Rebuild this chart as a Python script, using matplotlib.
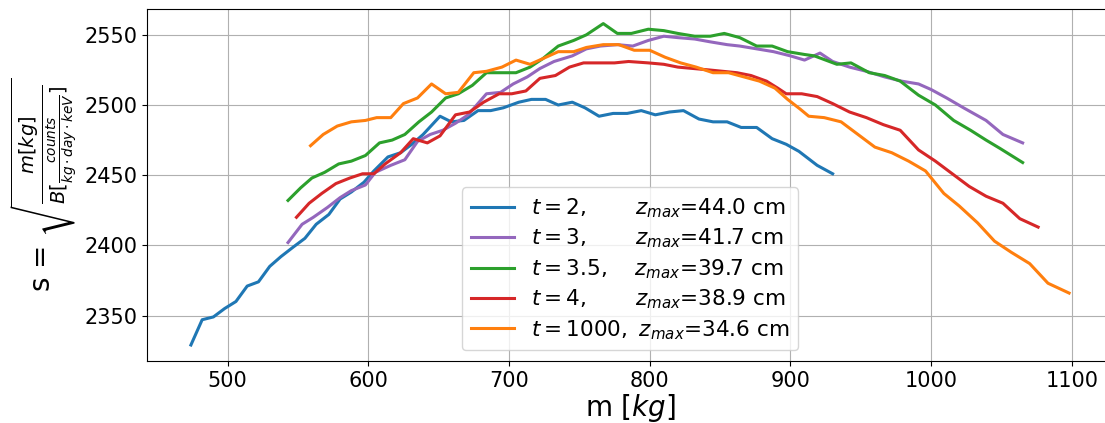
import matplotlib
matplotlib.use("Agg")
import matplotlib.pyplot as plt

# t = 2
m_t2 = [474, 482, 490, 498, 506, 514, 522, 530, 538, 547, 555, 563, 572, 580, 588, 597, 604, 614, 623, 631,
        639, 651, 659, 668, 678, 687, 696, 707, 716, 726, 735, 745, 754, 764, 774, 784, 794, 804, 814, 824,
        835, 845, 855, 865, 876, 887, 897, 906, 919, 930]
s_t2 = [2329, 2347, 2349, 2355, 2360, 2371, 2374, 2385, 2392, 2399, 2405, 2415, 2422, 2433, 2438, 2445, 2453, 2463, 2466, 2472,
        2479, 2492, 2488, 2489, 2496, 2496, 2498, 2502, 2504, 2504, 2500, 2502, 2498, 2492, 2494, 2494, 2496, 2493, 2495, 2496,
        2490, 2488, 2488, 2484, 2484, 2476, 2472, 2467, 2457, 2451]

# t = 3
m_t3 = [543, 553, 561, 571, 580, 588, 598, 605, 616, 626, 635, 644, 653, 662, 671, 684, 694, 703, 713, 722,
        732, 745, 755, 765, 777, 788, 799, 810, 820, 832, 843, 855, 864, 876, 888, 900, 910, 921, 930, 942,
        954, 967, 979, 991, 1000, 1011, 1023, 1039, 1051, 1065]
s_t3 = [2402, 2415, 2420, 2427, 2434, 2439, 2443, 2452, 2457, 2461, 2474, 2479, 2482, 2487, 2493, 2508, 2509, 2515, 2520, 2526,
        2531, 2535, 2540, 2542, 2543, 2542, 2546, 2549, 2548, 2547, 2545, 2543, 2542, 2540, 2538, 2535, 2532, 2537, 2531, 2527,
        2524, 2520, 2517, 2515, 2511, 2505, 2498, 2489, 2479, 2473]

# t = 3.5
m_t35 = [543, 552, 560, 569, 579, 588, 598, 608, 617, 626, 636, 645, 655, 664, 674, 684, 695, 705, 715, 724,
         735, 746, 755, 767, 777, 787, 799, 810, 820, 832, 843, 853, 864, 876, 887, 898, 910, 917, 933, 943,
         956, 967, 978, 991, 1003, 1016, 1028, 1039, 1049, 1065]
s_t35 = [2432, 2441, 2448, 2452, 2458, 2460, 2464, 2473, 2475, 2479, 2488, 2495, 2505, 2508, 2514, 2523, 2523, 2523, 2527, 2533,
         2542, 2546, 2550, 2558, 2551, 2551, 2554, 2553, 2551, 2549, 2549, 2551, 2548, 2542, 2542, 2538, 2536, 2535, 2529, 2530,
         2523, 2521, 2517, 2507, 2500, 2489, 2482, 2475, 2469, 2459]

# t = 4
m_t4 = [549, 558, 567, 577, 587, 596, 604, 612, 623, 632, 642, 651, 662, 672, 682, 693, 702, 712, 722, 733,
        743, 753, 765, 775, 785, 799, 810, 820, 831, 842, 852, 862, 872, 883, 891, 897, 908, 919, 930, 942,
        954, 966, 978, 991, 1003, 1015, 1027, 1039, 1051, 1063, 1076]
s_t4 = [2420, 2430, 2437, 2444, 2448, 2451, 2451, 2458, 2466, 2476, 2473, 2478, 2493, 2495, 2502, 2508, 2508, 2510, 2519, 2521,
        2527, 2530, 2530, 2530, 2531, 2530, 2529, 2527, 2526, 2525, 2524, 2523, 2521, 2517, 2512, 2508, 2508, 2506, 2501, 2495,
        2491, 2486, 2482, 2468, 2460, 2451, 2442, 2435, 2430, 2419, 2413]

# t = 1000
m_t1000 = [559, 568, 578, 588, 598, 606, 616, 625, 635, 645, 655, 664, 675, 684, 695, 705, 715, 724, 735, 746,
           755, 767, 778, 789, 800, 811, 822, 833, 845, 856, 867, 878, 889, 898, 907, 913, 924, 936, 948, 960,
           972, 984, 996, 1009, 1020, 1033, 1045, 1057, 1070, 1083, 1098]
s_t1000 = [2471, 2479, 2485, 2488, 2489, 2491, 2491, 2501, 2505, 2515, 2508, 2509, 2523, 2524, 2527, 2532, 2529, 2533, 2538, 2538,
           2541, 2543, 2543, 2539, 2539, 2534, 2530, 2527, 2523, 2523, 2520, 2517, 2512, 2504, 2497, 2492, 2491, 2488, 2479, 2470,
           2466, 2460, 2453, 2437, 2428, 2416, 2403, 2395, 2387, 2373, 2366]

labels = [r'$t=2$,$\qquad$ $z_{max}$=44.0 cm',
          r'$t=3$,$\qquad$ $z_{max}$=41.7 cm',
          r'$t=3.5$,$\quad$ $z_{max}$=39.7 cm',
          r'$t=4$,$\qquad$ $z_{max}$=38.9 cm',
          r'$t=1000$, $\:z_{max}$=34.6 cm']
colors = ['#1f77b4', '#9467bd', '#2ca02c', '#d62728', '#ff7f0e']
series = [(m_t2, s_t2), (m_t3, s_t3), (m_t35, s_t35), (m_t4, s_t4), (m_t1000, s_t1000)]

fig = plt.figure(figsize=(11.05, 4.23), dpi=100)
ax = fig.add_axes([147 / 1105, 62 / 423, 966 / 1105, 352 / 423])

for (mx, sy), lab, col in zip(series, labels, colors):
    ax.plot(mx, sy, color=col, lw=2.2, label=lab)

ax.set_xlim(442.8, 1129.2)
ax.set_ylim(2317.6, 2568.4)
ax.set_xticks([500, 600, 700, 800, 900, 1000, 1100])
ax.set_yticks([2350, 2400, 2450, 2500, 2550])
ax.tick_params(labelsize=15)
ax.spines['right'].set_visible(False)
ax.grid(True)
ax.set_xlabel(r'm $[kg]$', fontsize=20, labelpad=1)
ax.set_ylabel(r's = $\sqrt{\frac{m[kg]}{B[\frac{counts}{kg \cdot day \cdot keV}]}}$', fontsize=20)
ax.legend(loc='lower center', fontsize=15.5, labelspacing=0.32)

fig.savefig('out.png', dpi=100)
